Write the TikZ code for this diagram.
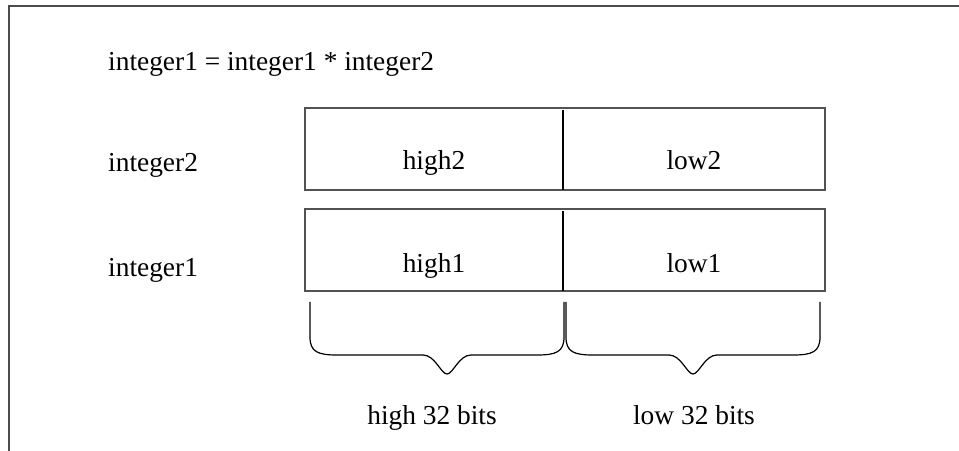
\documentclass[tikz,border=0pt]{standalone}
\usepackage{fontspec}
\setmainfont{Liberation Serif}
\tikzset{
  lbl/.style={font=\fontsize{27.5}{33}\selectfont, inner sep=0pt, anchor=base west},
  cell/.style={font=\fontsize{27.5}{33}\selectfont, inner sep=0pt, anchor=base},
  framestyle/.style={draw=black!70, line width=2bp},
  boxstyle/.style={draw=black!68, line width=2bp},
  divstyle/.style={draw=black, line width=1.1bp},
  bracestyle/.style={draw=black, line width=1.2bp}
}
\newcommand\drawbrace[3]{%
  \draw[bracestyle] (#1,302) -- (#1,337)
    .. controls (#1,352) and ({#1+8},355) .. ({#1+27},355)
    -- ({#3-24},355)
    .. controls ({#3-12},355) and ({#3-6},374) .. (#3,374)
    .. controls ({#3+6},374) and ({#3+12},355) .. ({#3+24},355)
    -- ({#2-27},355)
    .. controls ({#2-8},355) and (#2,352) .. (#2,337) -- (#2,302);}
\begin{document}
\begin{tikzpicture}[x=1bp,y=-1bp]
\useasboundingbox (0,0) rectangle (959,451);
% frame
\coordinate (fbl) at (9,452);
\coordinate (ftl) at (9,6.5);
\coordinate (ftr) at (960,6.5);
\draw[framestyle] (fbl) -- (ftl) -- (ftr);
% title
\node[lbl] (eq) at (108,71) {integer1 = integer1 * integer2};
% row labels
\node[lbl] (i2) at (108,172) {integer2};
\node[lbl] (i1) at (108,277) {integer1};
% boxes: integer2
\coordinate (b2nw) at (305,108.5);
\coordinate (b2se) at (825,190.5);
\coordinate (b2dt) at (563,110);
\coordinate (b2db) at (563,190);
\draw[boxstyle] (b2nw) rectangle (b2se);
\draw[divstyle] (b2dt) -- (b2db);
\node[cell] (h2) at (434,170) {high2};
\node[cell] (l2) at (694,170) {low2};
% boxes: integer1
\coordinate (b1nw) at (305,209.5);
\coordinate (b1se) at (825,291.5);
\coordinate (b1dt) at (563,211);
\coordinate (b1db) at (563,291);
\draw[boxstyle] (b1nw) rectangle (b1se);
\draw[divstyle] (b1dt) -- (b1db);
\node[cell] (h1) at (434,273) {high1};
\node[cell] (l1) at (694,273) {low1};
% braces
\drawbrace{310}{564}{447}
\drawbrace{566}{820}{693}
\node[cell] (hb) at (432,424) {high 32 bits};
\node[cell] (lb) at (694,424) {low 32 bits};
\end{tikzpicture}
\end{document}
